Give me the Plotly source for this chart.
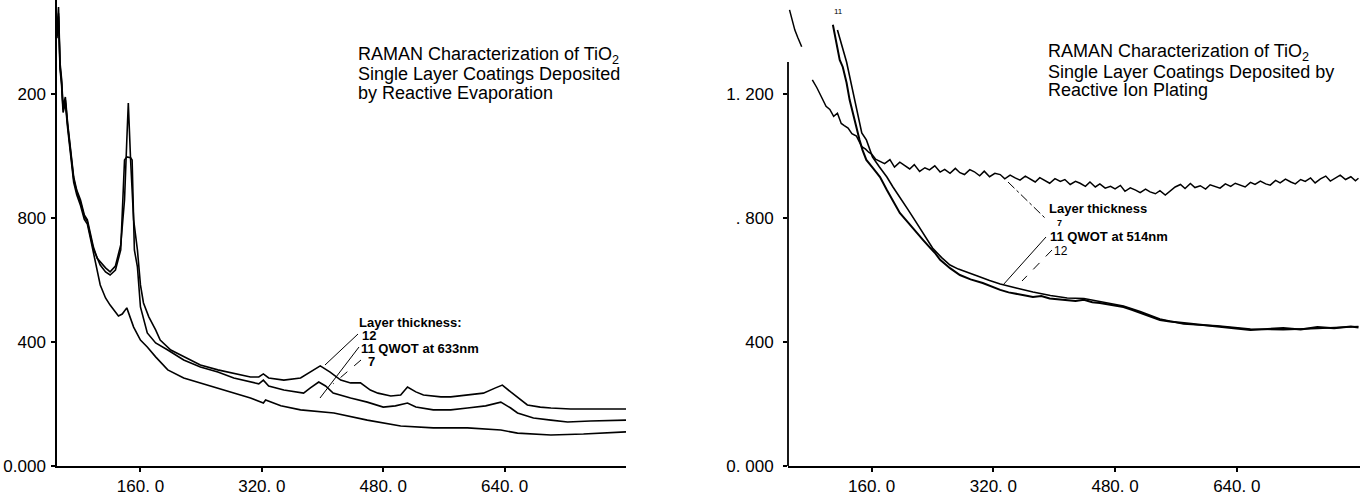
import plotly.graph_objects as go

# ---------------- DATA ----------------
# Left panel: Reactive Evaporation (QWOT at 633nm)
evap_x_12 = [50, 52, 54, 56, 58, 61, 64, 68, 72, 76, 81, 86, 90, 94, 98, 103, 107, 114, 120, 127, 134, 139, 142, 144, 147,
             151, 156, 160, 164, 171, 180, 186, 200, 217, 239, 262, 285, 305, 316, 322, 329, 349, 371, 384, 397, 410, 424,
             437, 450, 463, 473, 490, 503, 512, 523, 533, 556, 569, 595, 612, 628, 637, 648, 661, 670, 687, 701, 727, 744,
             767, 800]
evap_y_12 = [1400, 1480, 1300, 1250, 1160, 1190, 1106, 1019, 932, 890, 858, 810, 794, 750, 706, 670, 658, 639, 626, 645,
             713, 858, 1050, 1171, 987, 794, 697, 584, 526, 481, 439, 406, 374, 352, 326, 310, 297, 287, 287, 297, 284,
             277, 284, 303, 323, 303, 277, 268, 268, 245, 235, 226, 229, 255, 239, 229, 223, 223, 229, 235, 252, 261,
             239, 213, 197, 190, 187, 184, 184, 186, 184]

evap_x_11 = [50, 52, 54, 56, 58, 61, 64, 68, 72, 76, 81, 86, 90, 94, 98, 107, 114, 120, 127, 134, 139, 142, 147, 149, 152,
             156, 160, 169, 180, 196, 217, 239, 262, 283, 305, 316, 322, 329, 349, 375, 384, 395, 404, 414, 437, 459, 480,
             496, 512, 523, 546, 569, 591, 615, 635, 648, 657, 678, 701, 723, 753, 800]
evap_y_11 = [1390, 1460, 1290, 1240, 1150, 1180, 1100, 1010, 925, 885, 850, 805, 788, 742, 700, 648, 626, 616, 632, 697,
             987, 997, 994, 987, 697, 642, 513, 429, 397, 374, 342, 319, 303, 284, 271, 265, 277, 258, 245, 235, 252,
             271, 258, 235, 219, 206, 190, 194, 203, 190, 181, 181, 187, 194, 206, 187, 171, 155, 148, 142, 145, 148]

evap_x_7 = [50, 52, 54, 56, 58, 61, 64, 68, 72, 76, 81, 86, 90, 94, 98, 107, 114, 120, 131, 136, 142, 147, 151, 160, 169,
            180, 196, 217, 239, 262, 283, 305, 322, 325, 345, 371, 415, 459, 503, 546, 591, 635, 657, 701, 744, 800]
evap_y_7 = [1380, 1450, 1280, 1230, 1140, 1170, 1090, 1000, 915, 875, 840, 795, 780, 735, 690, 584, 542, 519, 484, 490,
            510, 477, 448, 406, 384, 352, 310, 284, 268, 252, 235, 219, 203, 213, 194, 181, 171, 148, 129, 123, 123,
            116, 106, 100, 103, 110]

# Right panel: Reactive Ion Plating (QWOT at 514nm)
ion_x_7 = [52, 55, 59, 63, 68, None,
           82, 88, 94, 100, 105, 110, 115, 120, 124, 129, 134, 140, 147, 152, 156, 160,
           165, 171, 177, 184, 190, 197, 203, 210, 216, 223, 230, 236, 243, 250, 256, 263, 270, 276, 282, 289,
           295, 302, 308, 315, 322, 329, 335, 342, 348, 355, 362, 368, 375, 381, 388, 394, 401, 408, 414, 421,
           428, 434, 441, 447, 454, 460, 467, 474, 480, 487, 493, 500, 507, 513, 520, 526, 533, 539, 546, 552,
           559, 566, 572, 579, 585, 592, 599, 605, 612, 618, 625, 632, 638, 645, 651, 658, 664, 671, 678, 684,
           691, 697, 704, 711, 717, 724, 730, 737, 743, 750, 757, 763, 770, 776, 783, 790, 796, 800]
ion_y_7 = [1471, 1445, 1406, 1381, 1352, None,
           1245, 1220, 1190, 1160, 1150, 1128, 1138, 1105, 1098, 1090, 1072, 1064, 1030, 1022, 1012, 1006,
           990, 982, 975, 988, 964, 980, 970, 958, 972, 950, 962, 955, 968, 948, 957, 944, 960, 946, 940, 956,
           949, 936, 951, 933, 944, 940, 926, 938, 930, 922, 935, 926, 916, 930, 921, 912, 927, 918, 924, 908,
           918, 912, 902, 916, 900, 910, 896, 902, 894, 905, 886, 897, 890, 882, 893, 884, 878, 888, 874, 885,
           900, 908, 895, 911, 898, 904, 893, 907, 900, 896, 910, 902, 912, 906, 900, 915, 908, 919, 910, 906,
           921, 913, 925, 916, 910, 924, 918, 929, 913, 926, 935, 919, 930, 938, 924, 933, 920, 928]

ion_x_11 = [109, 114, 118, 122, 127, 131, 135, 140, 144, 148, 153, 162, 171, 180, 188, 197, 208, 219, 228, 236, 243, 250,
            263, 276, 290, 306, 318, 329, 340, 351, 362, 372, 383, 394, 405, 417, 428, 439, 450, 460, 470, 480, 491, 502,
            513, 526, 539, 552, 570, 592, 614, 636, 658, 680, 701, 724, 746, 768, 790, 800]
ion_y_11 = [1423, 1365, 1310, 1287, 1236, 1181, 1139, 1094, 1052, 1019, 987, 960, 932, 890, 855, 816, 785, 752, 728, 706,
            688, 665, 638, 616, 602, 590, 578, 568, 560, 556, 550, 545, 548, 540, 538, 535, 532, 536, 528, 526, 522, 518,
            513, 504, 494, 482, 471, 466, 461, 455, 448, 444, 439, 442, 445, 440, 448, 444, 450, 447]

ion_x_12 = [115, 121, 127, 134, 140, 147, 153, 161, 170, 180, 188, 197, 208, 219, 230, 240, 252, 263, 274, 285, 300, 315,
            329, 350, 372, 395, 417, 439, 460, 491, 513, 539, 570, 614, 658, 701, 746, 800]
ion_y_12 = [1406, 1350, 1303, 1223, 1158, 1074, 1052, 997, 965, 932, 900, 868, 826, 784, 740, 703, 672, 648, 635, 626,
            612, 598, 587, 574, 561, 550, 542, 540, 530, 516, 498, 474, 458, 452, 442, 440, 444, 450]

x_tickvals = [160, 320, 480, 640]
x_ticktext = ["160. 0", "320. 0", "480. 0", "640. 0"]
y_tickvals = [0, 400, 800, 1200]
left_y_ticktext = ["0.000", "400", "800", "200"]
right_y_ticktext = ["0. 000", "400", ". 800", "1. 200"]

assert len(ion_x_7) == len(ion_y_7)

# ---------------- FIGURE ----------------
W, H = 1364, 497
PLOT_H = 466
FONT = "Liberation Sans, Arial, sans-serif"

fig = go.Figure()
line_style = dict(color="black", width=1.6)
for xs, ys in [(evap_x_12, evap_y_12), (evap_x_11, evap_y_11), (evap_x_7, evap_y_7)]:
    fig.add_trace(go.Scatter(x=xs, y=ys, mode="lines", line=line_style, xaxis="x", yaxis="y",
                             showlegend=False, hoverinfo="skip"))
for xs, ys, w in [(ion_x_7, ion_y_7, 1.5), (ion_x_11, ion_y_11, 2.0), (ion_x_12, ion_y_12, 1.6)]:
    fig.add_trace(go.Scatter(x=xs, y=ys, mode="lines", line=dict(color="black", width=w), xaxis="x2", yaxis="y2",
                             showlegend=False, hoverinfo="skip", connectgaps=False))

axis_common = dict(showgrid=False, zeroline=False, showline=True, linecolor="black", linewidth=1.5,
                   ticks="outside", ticklen=4, tickwidth=1.5, tickcolor="black",
                   tickfont=dict(family=FONT, size=17, color="black"))

fig.update_layout(
    width=W, height=H,
    margin=dict(l=0, r=0, t=0, b=H - PLOT_H),
    paper_bgcolor="white", plot_bgcolor="white",
    xaxis=dict(domain=[57 / W, 626 / W], range=[50, 800], anchor="y", tickvals=x_tickvals,
               ticktext=x_ticktext, ticklabelstandoff=0, **axis_common),
    yaxis=dict(domain=[0, 1], range=[0, 1503], anchor="x", tickvals=y_tickvals,
               ticktext=left_y_ticktext, ticklabelstandoff=2, **axis_common),
    xaxis2=dict(domain=[788 / W, 1360 / W], range=[50, 802], anchor="y2", tickvals=x_tickvals,
                ticktext=x_ticktext, ticklabelstandoff=0, **axis_common),
    yaxis2=dict(domain=[0, 1], range=[0, 1503], anchor="x2", tickvals=y_tickvals,
                ticktext=right_y_ticktext, ticklabelstandoff=6,
                **{**axis_common, "showline": False}),
)


def px2paper(px, py):
    return px / W, (PLOT_H - py) / PLOT_H


annotations = []


def add_text(px, py, text, size, bold=False):
    x, y = px2paper(px, py)
    annotations.append(dict(x=x, y=y, xref="paper", yref="paper", text=(f"<b>{text}</b>" if bold else text),
                            showarrow=False, xanchor="left", yanchor="middle",
                            font=dict(family=FONT, size=size, color="black")))


# Titles
add_text(356, 55, "RAMAN Characterization of TiO<sub>2</sub>", 18)
add_text(356, 74, "Single Layer Coatings Deposited", 18)
add_text(356, 93, "by Reactive Evaporation", 18)
add_text(1046, 53, "RAMAN Characterization of TiO<sub>2</sub>", 18)
add_text(1046, 72, "Single Layer Coatings Deposited by", 18)
add_text(1046, 90, "Reactive Ion Plating", 18)

# Left labels
add_text(357, 322, "Layer thickness:", 13, True)
add_text(360, 335, "12", 13, True)
add_text(359, 349, "11 QWOT at 633nm", 13, True)
add_text(366, 362, "7", 13, True)
# Right labels
add_text(1047, 209, "Layer thickness", 13, True)
add_text(1055, 223, "7", 9, True)
add_text(1048, 237, "11 QWOT at 514nm", 13, True)
add_text(1052, 251, "12", 12, False)
add_text(832, 12, "11", 8, False)

fig.update_layout(annotations=annotations)

shapes = []


def add_line(p0, p1, dash="solid", width=1):
    x0, y0 = px2paper(*p0)
    x1, y1 = px2paper(*p1)
    shapes.append(dict(type="line", xref="paper", yref="paper", x0=x0, y0=y0, x1=x1, y1=y1,
                       line=dict(color="black", width=width, dash=dash)))


# right panel y-axis line (shorter than plot height)
add_line((788, 62), (788, 466), width=1.8)
# leader lines left
add_line((358, 334), (325, 365))
add_line((359, 347), (320, 398))
add_line((361, 360), (333, 384), dash="dash")
# leader lines right
add_line((1008, 182), (1045, 218), dash="dashdot")
add_line((1046, 237), (1003, 285))
add_line((1052, 250), (1022, 281), dash="dash")

fig.update_layout(shapes=shapes)

fig.write_html("out.html",
               config={"displayModeBar": False},
               post_script="document.body.style.margin='0';document.body.style.padding='0';"
                           "document.documentElement.style.overflow='hidden';")
